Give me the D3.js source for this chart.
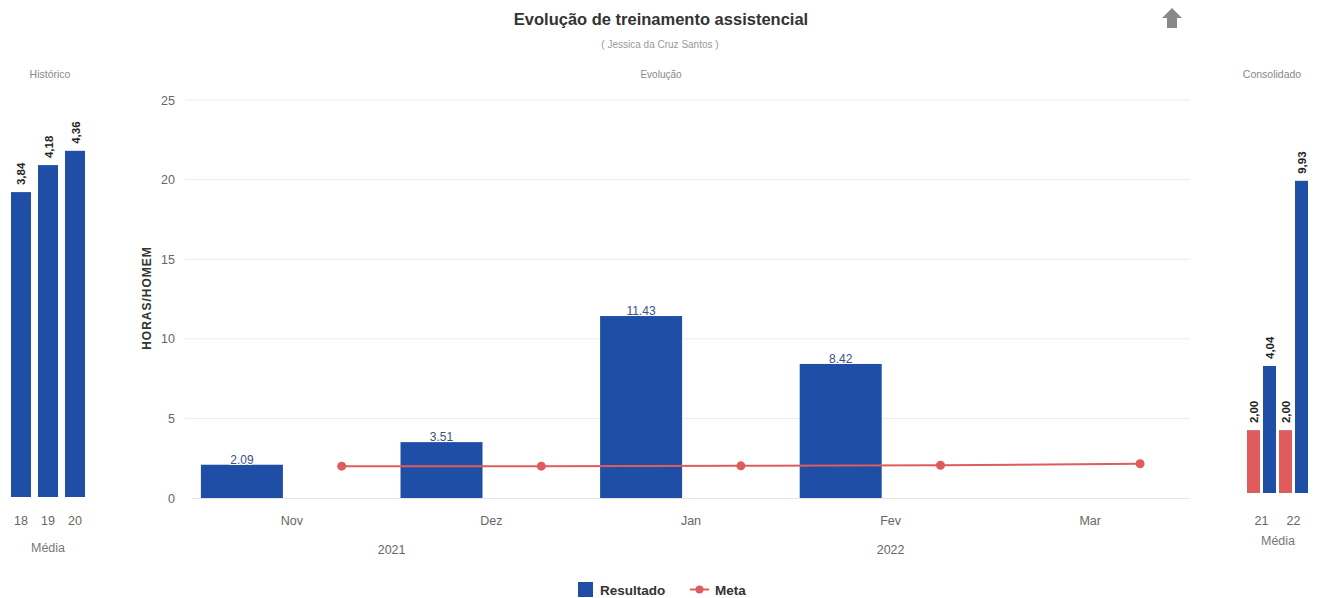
<!DOCTYPE html>
<html><head><meta charset="utf-8">
<script src="https://cdn.jsdelivr.net/npm/d3@7"></script>
<style>
body{margin:0;background:#fff;}
svg text{font-family:"Liberation Sans",Arial,sans-serif;}
</style></head>
<body><svg id="c" width="1324" height="598"></svg>
<script>
// ---- data ----
const months = ["Nov","Dez","Jan","Fev","Mar"];
const yearGroups = [{year:"2021", from:"Nov", to:"Dez"},{year:"2022", from:"Jan", to:"Mar"}];
const resultado = [2.09, 3.51, 11.43, 8.42, null];
const meta = [2.0, 2.0, 2.02, 2.06, 2.15];
const yTicks = [0,5,10,15,20,25];

const histCats = ["18","19","20"];
const histValues = [3.84, 4.18, 4.36];

const consCats = ["21","22"];
const consMeta = [2.00, 2.00];
const consResultado = [4.04, 9.93];

const BLUE = "#1e4ea5", RED = "#e05c5c";
const svg = d3.select("#c");
const fmtComma = v => d3.format(".2f")(v).replace(".", ",");
const ROT_FONT = "DejaVu Sans, Verdana, sans-serif";

// ---- titles ----
svg.append("text").attr("x",661).attr("y",25).attr("text-anchor","middle")
  .attr("font-size",16.5).attr("font-weight","bold").attr("fill","#333").text("Evolução de treinamento assistencial");
svg.append("text").attr("x",660).attr("y",48).attr("text-anchor","middle")
  .attr("font-size",10).attr("fill","#999").text("( Jessica da Cruz Santos )");
// up arrow icon
svg.append("path").attr("d","M1172,8 L1182,18 L1177,18 L1177,28 L1167,28 L1167,18 L1162,18 Z").attr("fill","#888");

// ---- main chart ----
const x = d3.scaleBand().domain(months).range([192,1190]).padding(0);
const sub = d3.scaleBand().domain(["Resultado","Meta"]).range([0, x.bandwidth()]);
const y = d3.scaleLinear().domain([0,25]).range([498,100]);

svg.append("text").attr("x",661).attr("y",78).attr("text-anchor","middle").attr("font-size",10).attr("fill","#888").text("Evolução");

// grid
svg.append("g").selectAll("line").data(yTicks.filter(d=>d>0)).join("line")
  .attr("x1",185).attr("x2",1190).attr("y1",d=>y(d)).attr("y2",d=>y(d))
  .attr("stroke","#ebebeb").attr("stroke-width",1);
// y axis labels
const yAxis = d3.axisLeft(y).tickValues(yTicks).tickSize(0).tickPadding(0);
const gy = svg.append("g").attr("transform","translate(175,0)").call(yAxis);
gy.select(".domain").remove();
gy.selectAll("text").attr("font-size",12.5).attr("fill","#666").attr("font-family","Liberation Sans, Arial, sans-serif");
svg.append("text").attr("transform","translate(151,298) rotate(-90)").attr("text-anchor","middle")
  .attr("font-size",12).attr("font-weight","bold").attr("letter-spacing",1).attr("fill","#333").text("HORAS/HOMEM");

// x axis
const xAxis = d3.axisBottom(x).tickSize(0).tickPadding(0);
const gx = svg.append("g").attr("transform","translate(0,498)").call(xAxis);
gx.select(".domain").attr("stroke","#e6e6e6");
gx.selectAll("text").attr("dy",0).attr("y",27).attr("font-size",12.5).attr("fill","#666").attr("font-family","Liberation Sans, Arial, sans-serif");
// year grouped labels
svg.append("g").selectAll("text").data(yearGroups).join("text")
  .attr("x",d=>(x(d.from)+x(d.to)+x.bandwidth())/2).attr("y",554).attr("text-anchor","middle")
  .attr("font-size",12.5).attr("fill","#666").text(d=>d.year);

// bars
const barW = 82;
const rData = months.map((m,i)=>({m, v:resultado[i]})).filter(d=>d.v!=null);
svg.append("g").selectAll("rect").data(rData).join("rect")
  .attr("x",d=>x(d.m)+sub("Resultado")+sub.bandwidth()/2-barW/2).attr("width",barW)
  .attr("y",d=>y(d.v)).attr("height",d=>y(0)-y(d.v)).attr("fill",BLUE);
svg.append("g").selectAll("text").data(rData).join("text")
  .attr("x",d=>x(d.m)+sub("Resultado")+sub.bandwidth()/2).attr("y",d=>y(d.v)-1)
  .attr("text-anchor","middle").attr("font-size",12).attr("fill","#3d4f86")
  .attr("stroke","#fff").attr("stroke-width",2).attr("paint-order","stroke")
  .text(d=>d3.format(".2f")(d.v));

// meta line
const mData = months.map((m,i)=>({m, v:meta[i]}));
const mx = d => x(d.m)+sub("Meta")+sub.bandwidth()/2;
svg.append("path").datum(mData).attr("fill","none").attr("stroke",RED).attr("stroke-width",2)
  .attr("d", d3.line().x(mx).y(d=>y(d.v)));
svg.append("g").selectAll("circle").data(mData).join("circle")
  .attr("cx",mx).attr("cy",d=>y(d.v)).attr("r",4.5).attr("fill",RED);

// legend
svg.append("rect").attr("x",578).attr("y",582).attr("width",15).attr("height",15).attr("fill",BLUE);
svg.append("text").attr("x",600).attr("y",595).attr("font-size",13.5).attr("font-weight","bold").attr("fill","#333").text("Resultado");
svg.append("line").attr("x1",690).attr("x2",709).attr("y1",589.5).attr("y2",589.5).attr("stroke",RED).attr("stroke-width",2);
svg.append("circle").attr("cx",699.5).attr("cy",589.5).attr("r",4).attr("fill",RED);
svg.append("text").attr("x",715).attr("y",595).attr("font-size",13.5).attr("font-weight","bold").attr("fill","#333").text("Meta");

// ---- left: Histórico ----
svg.append("text").attr("x",50).attr("y",78).attr("text-anchor","middle").attr("font-size",10.5).attr("fill","#888").text("Histórico");
const hx = d3.scaleBand().domain(histCats).range([4,92]).padding(0.259);
const hy = d3.scaleLinear().domain([0,5]).range([497,100]);
const hData = histCats.map((c,i)=>({c, v:histValues[i]}));
svg.append("g").selectAll("rect").data(hData).join("rect")
  .attr("x",d=>hx(d.c)).attr("width",hx.bandwidth()).attr("y",d=>hy(d.v)).attr("height",d=>hy(0)-hy(d.v)).attr("fill",BLUE);
svg.append("g").selectAll("text").data(hData).join("text")
  .attr("transform",d=>`translate(${hx(d.c)+hx.bandwidth()/2+4.5},${hy(d.v)-7}) rotate(-90)`)
  .attr("font-size",11.5).attr("font-weight","bold").attr("font-family",ROT_FONT).attr("fill","#222").text(d=>fmtComma(d.v));
svg.append("g").selectAll("text.cat").data(histCats).join("text")
  .attr("x",d=>hx(d)+hx.bandwidth()/2).attr("y",525).attr("text-anchor","middle").attr("font-size",12.5).attr("fill","#666").text(d=>d);
svg.append("text").attr("x",48).attr("y",552).attr("text-anchor","middle").attr("font-size",12.5).attr("fill","#777").text("Média");

// ---- right: Consolidado ----
svg.append("text").attr("x",1272).attr("y",78).attr("text-anchor","middle").attr("font-size",10.5).attr("fill","#888").text("Consolidado");
const cx = d3.scaleBand().domain(consCats).range([1245.5,1309.5]).padding(0);
const cs = d3.scaleBand().domain(["Meta","Resultado"]).range([0,cx.bandwidth()]);
const cy = d3.scaleLinear().domain([0,12.5]).range([493,100]);
const cData = [];
consCats.forEach((c,i)=>{
  cData.push({c, s:"Meta", v:consMeta[i]});
  cData.push({c, s:"Resultado", v:consResultado[i]});
});
const cw = 13;
svg.append("g").selectAll("rect").data(cData).join("rect")
  .attr("x",d=>cx(d.c)+cs(d.s)+cs.bandwidth()/2-cw/2).attr("width",cw)
  .attr("y",d=>cy(d.v)).attr("height",d=>cy(0)-cy(d.v)).attr("fill",d=>d.s==="Meta"?RED:BLUE);
svg.append("g").selectAll("text").data(cData).join("text")
  .attr("transform",d=>`translate(${cx(d.c)+cs(d.s)+cs.bandwidth()/2+4.5},${cy(d.v)-7}) rotate(-90)`)
  .attr("font-size",11.5).attr("font-weight","bold").attr("font-family",ROT_FONT).attr("fill","#222").text(d=>fmtComma(d.v));
svg.append("g").selectAll("text.cat").data(consCats).join("text")
  .attr("x",d=>cx(d)+cx.bandwidth()/2).attr("y",525).attr("text-anchor","middle").attr("font-size",12.5).attr("fill","#666").text(d=>d);
svg.append("text").attr("x",1278).attr("y",545).attr("text-anchor","middle").attr("font-size",12.5).attr("fill","#777").text("Média");
</script></body></html>
